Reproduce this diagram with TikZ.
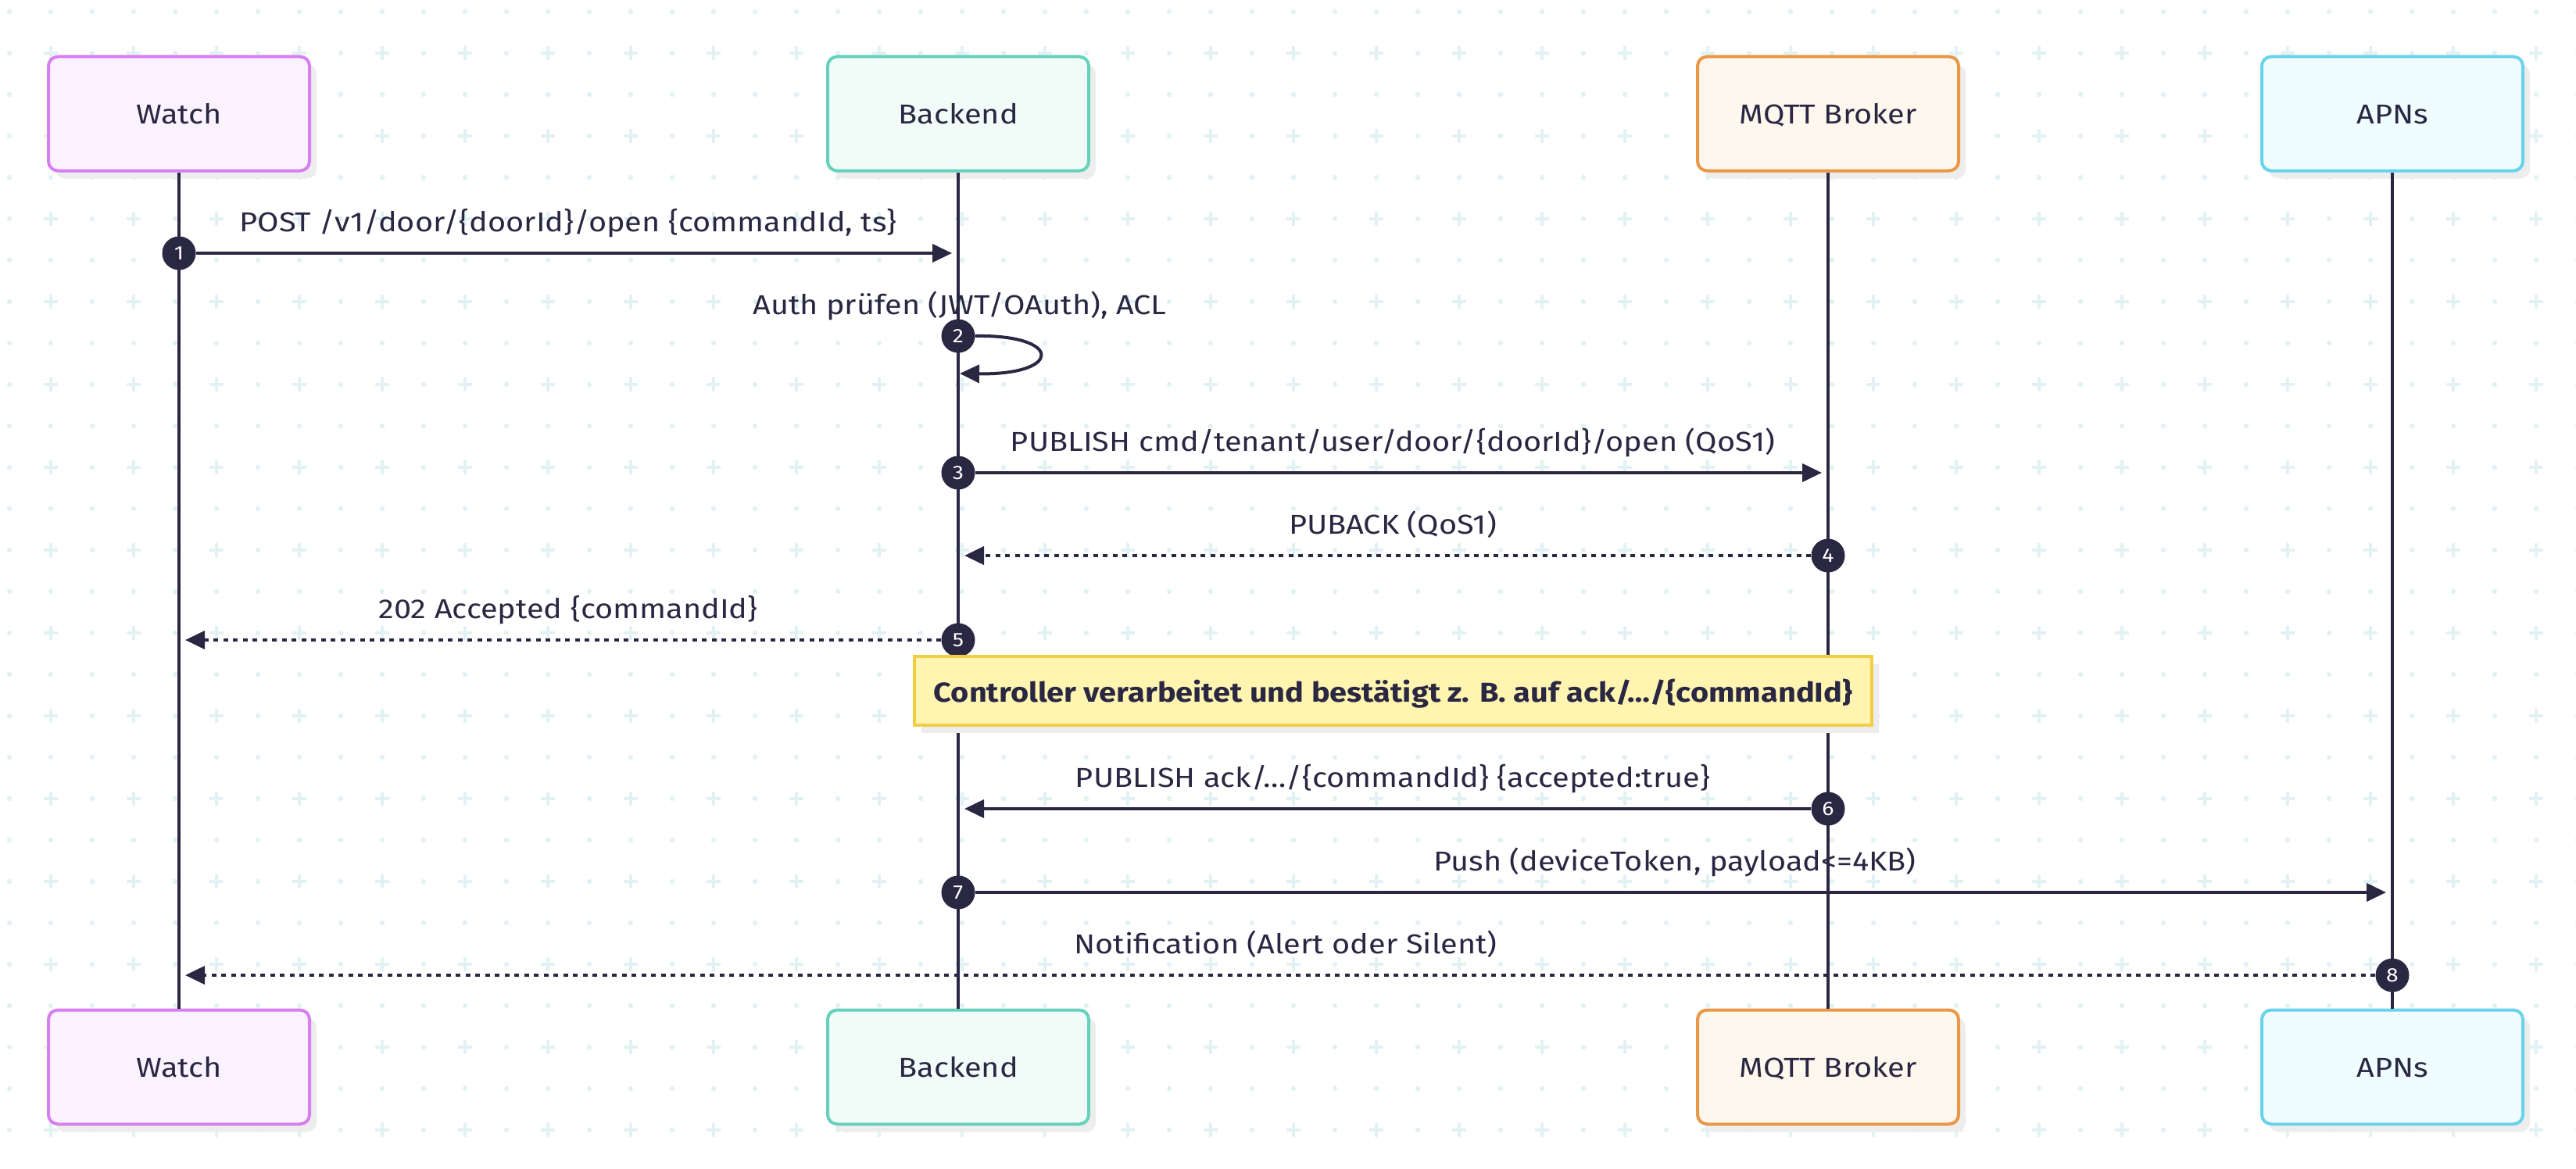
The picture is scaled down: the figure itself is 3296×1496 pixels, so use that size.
\documentclass[tikz,border=0pt]{standalone}
\usepackage{fontspec}
\setmainfont{Fira Sans}[FakeStretch=1.135]
\usetikzlibrary{arrows.meta}
\definecolor{ink}{HTML}{2A2742}
\definecolor{gridc}{HTML}{E2F1F4}
\definecolor{shadowc}{HTML}{EDEDED}
\definecolor{watchB}{HTML}{D77EF1}
\definecolor{watchF}{HTML}{FAF2FE}
\definecolor{backB}{HTML}{66D1BC}
\definecolor{backF}{HTML}{F1FCF9}
\definecolor{mqttB}{HTML}{EA9848}
\definecolor{mqttF}{HTML}{FEF7EE}
\definecolor{apnsB}{HTML}{6AD3EC}
\definecolor{apnsF}{HTML}{EFFDFF}
\definecolor{noteB}{HTML}{F2CE45}
\definecolor{noteF}{HTML}{FFF5B1}
\tikzset{
  actor/.style={draw, line width=4pt, rounded corners=12pt, minimum width=334pt, minimum height=146pt,
    text=ink, font=\fontsize{35}{42}\selectfont, inner sep=0pt},
  lifeline/.style={draw=ink, line width=3.5pt},
  num/.style={circle, fill=ink, text=white, minimum size=43pt, inner sep=0pt, font=\fontsize{25}{30}\selectfont},
  msg/.style={draw=ink, line width=4pt, -{Triangle[length=25pt,width=23pt]}},
  reply/.style={draw=ink, line width=4pt, dash pattern=on 6pt off 6.5pt, -{Triangle[length=25pt,width=23pt]}},
  lbl/.style={text=ink, font=\fontsize{35}{42}\selectfont, anchor=base, inner sep=0pt},
  notebox/.style={draw=noteB, fill=noteF, line width=4pt, minimum width=1225pt, minimum height=88pt,
    text=ink, font=\fontsize{35}{42}\selectfont\bfseries, inner sep=0pt},
}
\begin{document}
\begin{tikzpicture}[x=1pt,y=-1pt]
\useasboundingbox (0,0) rectangle (3296,1496);
\fill[white] (0,0) rectangle (3296,1496);
% background grid
\foreach \i in {0,...,62}{
  \foreach \j in {0,...,28}{
    \pgfmathsetmacro\gx{12+53*\i}
    \pgfmathsetmacro\gy{15+53*\j}
    \ifodd\i
      \ifodd\j
        \draw[gridc, line width=3.5pt] (\gx-9,\gy) -- (\gx+9,\gy) (\gx,\gy-9) -- (\gx,\gy+9);
      \else
        \fill[gridc] (\gx,\gy) circle (3.2pt);
      \fi
    \else
      \fill[gridc] (\gx,\gy) circle (3.2pt);
    \fi
  }
}
% shadows of participant boxes
\foreach \cx in {229,1226,2339,3061}{
  \fill[shadowc, rounded corners=12pt] (\cx-167+9,72.5+10) rectangle (\cx+167+9,218.5+10);
  \fill[shadowc, rounded corners=12pt] (\cx-167+9,1292.5+10) rectangle (\cx+167+9,1438.5+10);
}
% participants
\node[actor, draw=watchB, fill=watchF] (wt) at (229,145.5) {};
\node[actor, draw=backB, fill=backF] (bt) at (1226,145.5) {};
\node[actor, draw=mqttB, fill=mqttF] (mt) at (2339,145.5) {};
\node[actor, draw=apnsB, fill=apnsF] (at) at (3061,145.5) {};
\node[actor, draw=watchB, fill=watchF] (wb) at (229,1365.5) {};
\node[actor, draw=backB, fill=backF] (bb) at (1226,1365.5) {};
\node[actor, draw=mqttB, fill=mqttF] (mb) at (2339,1365.5) {};
\node[actor, draw=apnsB, fill=apnsF] (ab) at (3061,1365.5) {};
\foreach \n/\t in {wt/Watch,bt/Backend,mt/MQTT Broker,at/APNs,wb/Watch,bb/Backend,mb/MQTT Broker,ab/APNs}{
  \node[lbl] at ([yshift=-13pt]\n.center) {\t};
}
% lifelines
\draw[lifeline] (wt.south) -- (wb.north);
\draw[lifeline] (bt.south) -- (bb.north);
\draw[lifeline] (mt.south) -- (mb.north);
\draw[lifeline] (at.south) -- (ab.north);
% message 1
\coordinate (e1) at (1218,324);
\node[num] (n1) at (229,324) {1};
\draw[msg] (n1.east) -- (e1);
\node[lbl] at (727,296) {POST /v1/door/\{doorId\}/open \{commandId, ts\}};
% message 2 (self)
\node[num] (n2) at (1226,430) {2};
\coordinate (e2) at (1228,478);
\draw[msg] (n2.east) .. controls (1360,428) and (1360,480) .. (e2);
\node[lbl] at (1228,402) {Auth prüfen (JWT/OAuth), ACL};
% message 3
\node[num] (n3) at (1226,605) {3};
\coordinate (e3) at (2331,605);
\draw[msg] (n3.east) -- (e3);
\node[lbl] at (1782,577) {PUBLISH cmd/tenant/user/door/\{doorId\}/open (QoS1)};
% message 4
\node[num] (n4) at (2339,711) {4};
\coordinate (e4) at (1234,711);
\draw[reply] (n4.west) -- (e4);
\node[lbl] at (1782,683) {PUBACK (QoS1)};
% message 5
\node[num] (n5) at (1226,819) {5};
\coordinate (e5) at (237,819);
\draw[reply] (n5.west) -- (e5);
\node[lbl] at (727,791) {202 Accepted \{commandId\}};
% note
\fill[shadowc] (1170+9,840+10) rectangle (2395+9,928+10);
\node[notebox] (note) at (1782.5,884) {};
\node[lbl, font=\fontsize{35}{42}\selectfont\bfseries] at ([yshift=-14pt]note.center) {Controller verarbeitet und bestätigt z. B. auf ack/…/\{commandId\}};
% message 6
\node[num] (n6) at (2339,1035) {6};
\coordinate (e6) at (1234,1035);
\draw[msg] (n6.west) -- (e6);
\node[lbl] at (1782,1007) {PUBLISH ack/…/\{commandId\} \{accepted:true\}};
% message 7
\node[num] (n7) at (1226,1142) {7};
\coordinate (e7) at (3053,1142);
\draw[msg] (n7.east) -- (e7);
\node[lbl] at (2143,1114) {Push (deviceToken, payload<=4KB)};
% message 8
\node[num] (n8) at (3061,1248) {8};
\coordinate (e8) at (237,1248);
\draw[reply] (n8.west) -- (e8);
\node[lbl] at (1645,1220) {Notification (Alert oder Silent)};
\end{tikzpicture}
\end{document}
